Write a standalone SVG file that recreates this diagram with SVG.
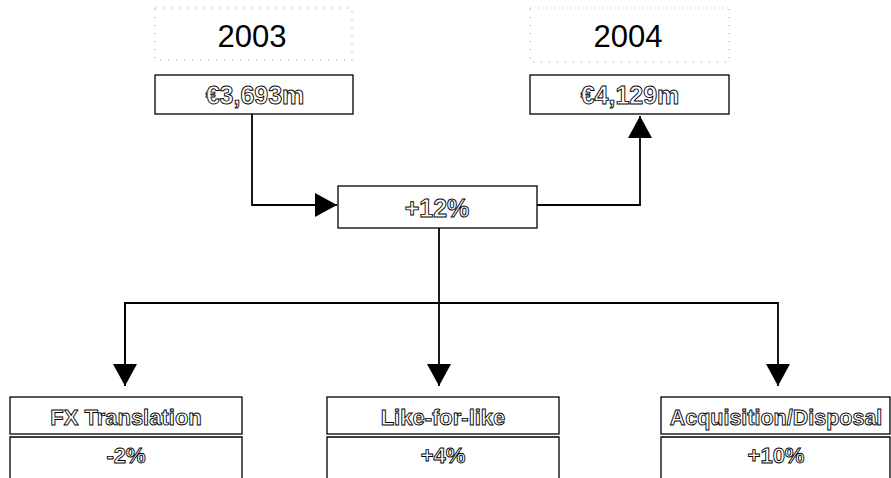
<svg xmlns="http://www.w3.org/2000/svg" width="891" height="478" viewBox="0 0 891 478">
<style>
.box{fill:#fff;stroke:#000;stroke-width:1.3}
.dot{fill:none;stroke:#999;stroke-width:1;stroke-dasharray:1 7}
.year{font-family:"Liberation Sans",Arial,sans-serif;font-size:31px;fill:#000;text-anchor:middle}
.hol{font-family:"Liberation Sans",Arial,sans-serif;font-weight:bold;fill:#fff;stroke:#000;stroke-width:0.9;text-anchor:middle}
.conn{fill:none;stroke:#000;stroke-width:1.8}
</style>
<defs>
<marker id="ah" markerUnits="userSpaceOnUse" markerWidth="24" markerHeight="26" refX="22" refY="12" orient="auto">
<path d="M0,0 L22,12 L0,24 Z" fill="#000"/>
</marker>
</defs>
<g id="y2003">
<rect class="dot" x="155" y="8" width="197" height="52"/>
<text class="year" x="252" y="47">2003</text>
</g>
<g id="y2004">
<rect class="dot" x="530" y="8" width="199" height="54"/>
<text class="year" x="628" y="47">2004</text>
</g>
<g id="v2003">
<rect class="box" x="155" y="75" width="198" height="39"/>
<text class="hol" x="255" y="104" font-size="25">€3,693m</text>
</g>
<g id="v2004">
<rect class="box" x="530" y="75" width="199" height="39"/>
<text class="hol" x="630" y="104" font-size="25">€4,129m</text>
</g>
<g id="growth">
<rect class="box" x="338" y="186" width="199" height="42"/>
<text class="hol" x="437" y="217" font-size="25">+12%</text>
</g>
<g id="fx">
<rect class="box" x="10" y="397" width="232" height="37"/>
<path class="box" d="M10,478 V437 H242 V478" fill="none"/>
<text class="hol" x="126" y="425" font-size="22">FX Translation</text>
<text class="hol" x="126" y="463" font-size="22">-2%</text>
</g>
<g id="lfl">
<rect class="box" x="327" y="397" width="232" height="37"/>
<path class="box" d="M327,478 V437 H559 V478" fill="none"/>
<text class="hol" x="443" y="425" font-size="22">Like-for-like</text>
<text class="hol" x="443" y="463" font-size="22">+4%</text>
</g>
<g id="acq">
<rect class="box" x="661" y="397" width="229" height="37"/>
<path class="box" d="M661,478 V437 H890 V478" fill="none"/>
<text class="hol" x="776" y="425" font-size="21.5">Acquisition/Disposal</text>
<text class="hol" x="776" y="463" font-size="22">+10%</text>
</g>
<g id="connectors">
<path class="conn" d="M252,114 V205 H337" marker-end="url(#ah)"/>
<path class="conn" d="M537,205 H640 V116" marker-end="url(#ah)"/>
<path class="conn" d="M439,228 V386" marker-end="url(#ah)"/>
<path class="conn" d="M125,386 V303 H778 V386" marker-end="url(#ah)"/>
<path class="conn" d="M125,303 V386" marker-end="url(#ah)"/>
</g>
</svg>
